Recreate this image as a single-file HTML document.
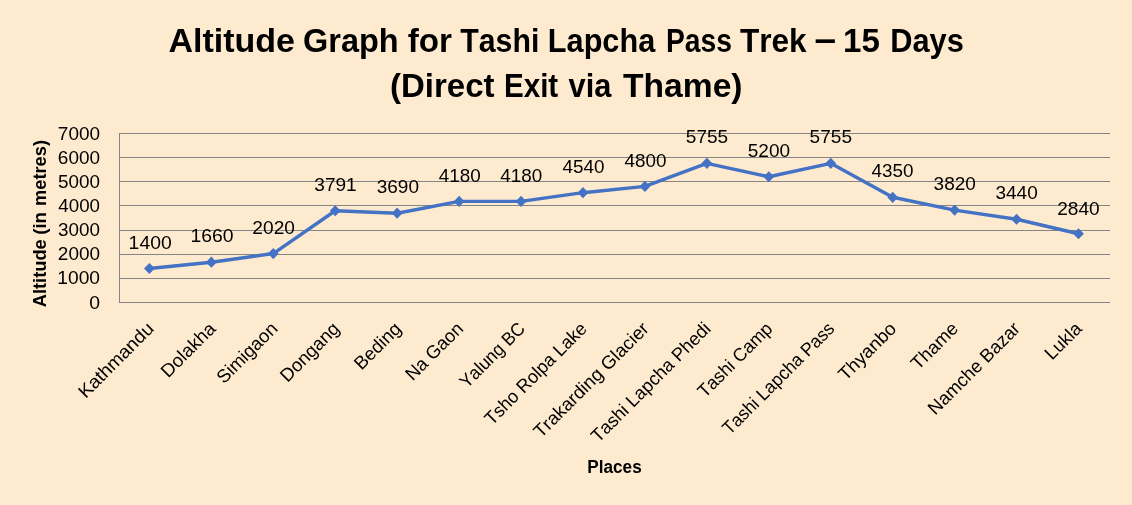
<!DOCTYPE html>
<html lang="en"><head><meta charset="utf-8"><title>Altitude Graph for Tashi Lapcha Pass Trek</title>
<style>
html,body{margin:0;padding:0;background:#FEEBCF;}
body{width:1132px;height:505px;overflow:hidden;}
svg{display:block;will-change:transform;font-family:"Liberation Sans",sans-serif;font-kerning:none;}
text{fill:#000;font-kerning:none;}
.b{font-weight:bold;}
</style></head><body>
<svg width="1132" height="505" viewBox="0 0 1132 505">
<defs><filter id="ga" x="0" y="0" width="1132" height="505" filterUnits="userSpaceOnUse"><feOffset dx="0" dy="0"/></filter></defs>
<rect x="0" y="0" width="1132" height="505" fill="#FEEBCF"/>
<g filter="url(#ga)">
<g stroke="#858585" stroke-width="1" shape-rendering="crispEdges">
<line x1="119.0" y1="302.5" x2="1109.5" y2="302.5"/>
<line x1="119.0" y1="278.5" x2="1109.5" y2="278.5"/>
<line x1="119.0" y1="254.5" x2="1109.5" y2="254.5"/>
<line x1="119.0" y1="230.5" x2="1109.5" y2="230.5"/>
<line x1="119.0" y1="205.5" x2="1109.5" y2="205.5"/>
<line x1="119.0" y1="181.5" x2="1109.5" y2="181.5"/>
<line x1="119.0" y1="157.5" x2="1109.5" y2="157.5"/>
<line x1="119.0" y1="133.5" x2="1109.5" y2="133.5"/>
<line x1="119.5" y1="133.0" x2="119.5" y2="303.0"/>
</g>
<g font-size="18.5">
<text x="89.24" y="308.80" textLength="10.82" lengthAdjust="spacingAndGlyphs">0</text>
<text x="57.34" y="284.20" textLength="42.71" lengthAdjust="spacingAndGlyphs">1000</text>
<text x="57.85" y="259.50" textLength="42.19" lengthAdjust="spacingAndGlyphs">2000</text>
<text x="58.08" y="236.00" textLength="41.95" lengthAdjust="spacingAndGlyphs">3000</text>
<text x="58.37" y="212.40" textLength="41.66" lengthAdjust="spacingAndGlyphs">4000</text>
<text x="58.04" y="188.30" textLength="41.99" lengthAdjust="spacingAndGlyphs">5000</text>
<text x="57.84" y="164.10" textLength="42.20" lengthAdjust="spacingAndGlyphs">6000</text>
<text x="57.83" y="140.00" textLength="42.21" lengthAdjust="spacingAndGlyphs">7000</text>
</g>
<g class="b" font-size="33.6">
<text x="168.45" y="51.6" textLength="126.51" lengthAdjust="spacingAndGlyphs">Altitude</text>
<text x="303.07" y="51.6" textLength="95.65" lengthAdjust="spacingAndGlyphs">Graph</text>
<text x="407.73" y="51.6" textLength="44.27" lengthAdjust="spacingAndGlyphs">for</text>
<text x="460.26" y="51.6" textLength="79.08" lengthAdjust="spacingAndGlyphs">Tashi</text>
<text x="547.85" y="51.6" textLength="107.36" lengthAdjust="spacingAndGlyphs">Lapcha</text>
<text x="666.01" y="51.6" textLength="66.05" lengthAdjust="spacingAndGlyphs">Pass</text>
<text x="740.05" y="51.6" textLength="66.62" lengthAdjust="spacingAndGlyphs">Trek</text>
<text x="843.12" y="51.6" textLength="36.81" lengthAdjust="spacingAndGlyphs">15</text>
<text x="890.24" y="51.6" textLength="73.52" lengthAdjust="spacingAndGlyphs">Days</text>
<text x="390.06" y="96.7" textLength="104.44" lengthAdjust="spacingAndGlyphs">(Direct</text>
<text x="503.92" y="96.7" textLength="54.34" lengthAdjust="spacingAndGlyphs">Exit</text>
<text x="568.58" y="96.7" textLength="42.82" lengthAdjust="spacingAndGlyphs">via</text>
<text x="623.02" y="96.7" textLength="119.55" lengthAdjust="spacingAndGlyphs">Thame)</text>
<text x="814.43" y="50.9" font-size="36.29" textLength="21.57" lengthAdjust="spacingAndGlyphs">–</text>
</g>
<g class="b" font-size="18.0">
<g transform="translate(45.7,0) rotate(-90)">
<text x="-307.25" y="0" textLength="67.98" lengthAdjust="spacingAndGlyphs">Altitude</text>
<text x="-234.83" y="0" textLength="22.79" lengthAdjust="spacingAndGlyphs">(in</text>
<text x="-206.00" y="0" textLength="66.01" lengthAdjust="spacingAndGlyphs">metres)</text>
</g>
<text x="587.25" y="473.3" font-size="17.6" textLength="54.45" lengthAdjust="spacingAndGlyphs">Places</text>
</g>
<polyline points="149.40,268.50 211.34,262.22 273.28,253.53 335.22,210.77 397.16,213.21 459.10,201.38 521.04,201.38 582.98,192.69 644.92,186.41 706.86,163.36 768.80,176.76 830.74,163.36 892.68,197.28 954.62,210.07 1016.56,219.25 1078.50,233.73" fill="none" stroke="#4472C4" stroke-width="3.4" stroke-linejoin="round" stroke-linecap="round"/>
<path d="M149.40 262.90L154.80 268.50L149.40 274.10L144.00 268.50ZM211.34 256.62L216.74 262.22L211.34 267.82L205.94 262.22ZM273.28 247.93L278.68 253.53L273.28 259.13L267.88 253.53ZM335.22 205.17L340.62 210.77L335.22 216.37L329.82 210.77ZM397.16 207.61L402.56 213.21L397.16 218.81L391.76 213.21ZM459.10 195.78L464.50 201.38L459.10 206.98L453.70 201.38ZM521.04 195.78L526.44 201.38L521.04 206.98L515.64 201.38ZM582.98 187.09L588.38 192.69L582.98 198.29L577.58 192.69ZM644.92 180.81L650.32 186.41L644.92 192.01L639.52 186.41ZM706.86 157.76L712.26 163.36L706.86 168.96L701.46 163.36ZM768.80 171.16L774.20 176.76L768.80 182.36L763.40 176.76ZM830.74 157.76L836.14 163.36L830.74 168.96L825.34 163.36ZM892.68 191.68L898.08 197.28L892.68 202.88L887.28 197.28ZM954.62 204.47L960.02 210.07L954.62 215.67L949.22 210.07ZM1016.56 213.65L1021.96 219.25L1016.56 224.85L1011.16 219.25ZM1078.50 228.13L1083.90 233.73L1078.50 239.33L1073.10 233.73Z" fill="#4472C4"/>
<g font-size="18.5">
<text x="128.63" y="248.70" textLength="43.03" lengthAdjust="spacingAndGlyphs">1400</text>
<text x="190.58" y="241.90" textLength="43.03" lengthAdjust="spacingAndGlyphs">1660</text>
<text x="252.39" y="233.90" textLength="42.51" lengthAdjust="spacingAndGlyphs">2020</text>
<text x="314.27" y="191.00" textLength="42.46" lengthAdjust="spacingAndGlyphs">3791</text>
<text x="376.73" y="193.30" textLength="42.27" lengthAdjust="spacingAndGlyphs">3690</text>
<text x="438.67" y="181.80" textLength="41.97" lengthAdjust="spacingAndGlyphs">4180</text>
<text x="500.37" y="181.80" textLength="41.97" lengthAdjust="spacingAndGlyphs">4180</text>
<text x="562.47" y="172.80" textLength="41.97" lengthAdjust="spacingAndGlyphs">4540</text>
<text x="624.47" y="167.10" textLength="41.97" lengthAdjust="spacingAndGlyphs">4800</text>
<text x="685.84" y="142.90" textLength="42.36" lengthAdjust="spacingAndGlyphs">5755</text>
<text x="747.74" y="156.60" textLength="42.30" lengthAdjust="spacingAndGlyphs">5200</text>
<text x="809.64" y="142.70" textLength="42.36" lengthAdjust="spacingAndGlyphs">5755</text>
<text x="871.57" y="177.00" textLength="41.97" lengthAdjust="spacingAndGlyphs">4350</text>
<text x="933.58" y="190.10" textLength="42.27" lengthAdjust="spacingAndGlyphs">3820</text>
<text x="995.48" y="199.10" textLength="42.27" lengthAdjust="spacingAndGlyphs">3440</text>
<text x="1057.24" y="214.50" textLength="42.51" lengthAdjust="spacingAndGlyphs">2840</text>
</g>
<g font-size="18.5" text-anchor="end">
<text transform="translate(154.94,329.8) rotate(-45)" textLength="98.01" lengthAdjust="spacingAndGlyphs">Kathmandu</text>
<text transform="translate(216.81,329.8) rotate(-45)" textLength="68.83" lengthAdjust="spacingAndGlyphs">Dolakha</text>
<text transform="translate(278.69,329.8) rotate(-45)" textLength="77.33" lengthAdjust="spacingAndGlyphs">Simigaon</text>
<text transform="translate(340.56,329.8) rotate(-45)" textLength="75.15" lengthAdjust="spacingAndGlyphs">Dongang</text>
<text transform="translate(402.44,329.8) rotate(-45)" textLength="58.07" lengthAdjust="spacingAndGlyphs">Beding</text>
<text transform="translate(464.31,329.8) rotate(-45)" textLength="73.07" lengthAdjust="spacingAndGlyphs">Na Gaon</text>
<text transform="translate(526.19,329.8) rotate(-45)" textLength="83.60" lengthAdjust="spacingAndGlyphs">Yalung BC</text>
<text transform="translate(588.06,329.8) rotate(-45)" textLength="135.97" lengthAdjust="spacingAndGlyphs">Tsho Rolpa Lake</text>
<text transform="translate(649.94,329.8) rotate(-45)" textLength="154.17" lengthAdjust="spacingAndGlyphs">Trakarding Glacier</text>
<text transform="translate(711.81,329.8) rotate(-45)" textLength="160.33" lengthAdjust="spacingAndGlyphs">Tashi Lapcha Phedi</text>
<text transform="translate(773.69,329.8) rotate(-45)" textLength="97.20" lengthAdjust="spacingAndGlyphs">Tashi Camp</text>
<text transform="translate(835.56,329.8) rotate(-45)" textLength="149.59" lengthAdjust="spacingAndGlyphs">Tashi Lapcha Pass</text>
<text transform="translate(897.44,329.8) rotate(-45)" textLength="73.24" lengthAdjust="spacingAndGlyphs">Thyanbo</text>
<text transform="translate(959.31,329.8) rotate(-45)" textLength="57.99" lengthAdjust="spacingAndGlyphs">Thame</text>
<text transform="translate(1021.19,329.8) rotate(-45)" textLength="121.51" lengthAdjust="spacingAndGlyphs">Namche Bazar</text>
<text transform="translate(1083.06,329.8) rotate(-45)" textLength="43.85" lengthAdjust="spacingAndGlyphs">Lukla</text>
</g>
</g>
</svg></body></html>
